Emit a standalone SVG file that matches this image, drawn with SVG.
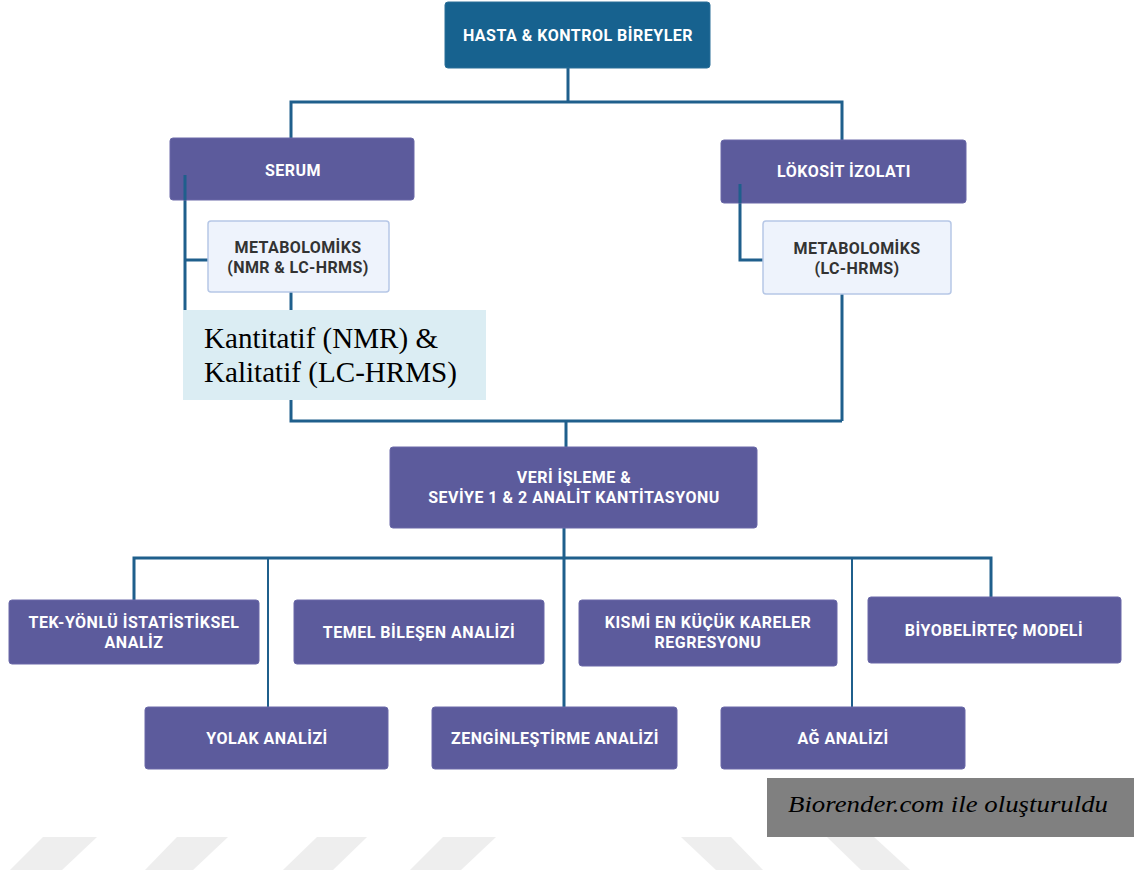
<svg xmlns="http://www.w3.org/2000/svg" width="1134" height="880" viewBox="0 0 1134 880">
<style>
.bg{fill:#ffffff}
.top{fill:#17628f;stroke:#2a6f98;stroke-width:1}
.pur{fill:#5c5b9c;stroke:#6a69a8;stroke-width:1}
.lt{fill:#eef3fc;stroke:#b6c7e6;stroke-width:1.5}
.wt{font-family:Roboto,"Liberation Sans",sans-serif;font-weight:700;font-size:16px;letter-spacing:0.5px;fill:#ffffff;text-anchor:middle}
.dk{font-family:Roboto,"Liberation Sans",sans-serif;font-weight:700;font-size:16px;letter-spacing:0.4px;fill:#333333;text-anchor:middle}
.con{fill:none;stroke:#1f5f8c;stroke-width:3}
.con2{fill:none;stroke:#1f5f8c;stroke-width:2}
.wm{fill:#eeeeee}
.serif{font-family:"Liberation Serif",serif;fill:#000000}
</style>
<rect class="bg" x="0" y="0" width="1134" height="880"/>
<g id="watermark">
<polygon class="wm" points="43,837 97,837 62,870 10,870"/>
<polygon class="wm" points="177,837 228,837 193,870 145,870"/>
<polygon class="wm" points="317,837 367,837 333,870 283,870"/>
<polygon class="wm" points="443,837 496,837 461,870 410,870"/>
<polygon class="wm" points="681,837 731,837 763,870 716,870"/>
<polygon class="wm" points="827,837 874,837 910,870 861,870"/>
</g>
<g id="connectors">
<polyline class="con" points="568,68 568,102"/>
<polyline class="con" points="291,138 291,102 842,102 842,140"/>
<polyline class="con" points="185,175 185,310"/>
<polyline class="con" points="185,260 208,260"/>
<polyline class="con" points="291,292 291,310"/>
<polyline class="con" points="740,184 740,260 763,260"/>
<polyline class="con" points="842,294 842,421"/>
<polyline class="con" points="291,400 291,421 842,421"/>
<polyline class="con" points="566,421 566,447"/>
<polyline class="con" points="564,528 564,558"/>
<polyline class="con" points="134,600 134,558 991,558 991,598"/>
<polyline class="con2" points="268,558 268,707"/>
<polyline class="con" points="564,558 564,707"/>
<polyline class="con2" points="852,558 852,707"/>
</g>
<g id="hasta">
<rect class="top" x="445" y="2" width="265" height="66" rx="3"/>
<text class="wt" x="578" y="41">HASTA &amp; KONTROL BİREYLER</text>
</g>
<g id="serum">
<rect class="pur" x="170" y="138" width="244" height="62" rx="3"/>
<text class="wt" x="293" y="176">SERUM</text>
</g>
<g id="lokosit">
<rect class="pur" x="721" y="140" width="245" height="63" rx="3"/>
<text class="wt" x="844" y="177">LÖKOSİT İZOLATI</text>
</g>
<g id="connector-overlay">
<polyline class="con" points="185,175 185,200"/>
<polyline class="con" points="740,184 740,203"/>
</g>
<g id="metab1">
<rect class="lt" x="208" y="221" width="181" height="71" rx="3"/>
<text class="dk" x="298" y="253">METABOLOMİKS</text>
<text class="dk" x="298" y="273">(NMR &amp; LC-HRMS)</text>
</g>
<g id="metab2">
<rect class="lt" x="763" y="221" width="188" height="73" rx="3"/>
<text class="dk" x="857" y="254">METABOLOMİKS</text>
<text class="dk" x="857" y="274">(LC-HRMS)</text>
</g>
<g id="kantitatif">
<rect x="183" y="310" width="303" height="90" fill="#dbedf3"/>
<text class="serif" x="204" y="348" font-size="29" textLength="234" lengthAdjust="spacingAndGlyphs">Kantitatif (NMR) &amp;</text>
<text class="serif" x="204" y="382" font-size="29" textLength="253" lengthAdjust="spacingAndGlyphs">Kalitatif (LC-HRMS)</text>
</g>
<g id="veri">
<rect class="pur" x="390" y="447" width="367" height="81" rx="3"/>
<text class="wt" x="574" y="483">VERİ İŞLEME &amp;</text>
<text class="wt" x="574" y="503">SEVİYE 1 &amp; 2 ANALİT KANTİTASYONU</text>
</g>
<g id="tek">
<rect class="pur" x="9" y="600" width="250" height="64" rx="3"/>
<text class="wt" x="134" y="628">TEK-YÖNLÜ İSTATİSTİKSEL</text>
<text class="wt" x="134" y="648">ANALİZ</text>
</g>
<g id="temel">
<rect class="pur" x="294" y="600" width="250" height="64" rx="3"/>
<text class="wt" x="419" y="638">TEMEL BİLEŞEN ANALİZİ</text>
</g>
<g id="kismi">
<rect class="pur" x="579" y="600" width="258" height="66" rx="3"/>
<text class="wt" x="708" y="628">KISMİ EN KÜÇÜK KARELER</text>
<text class="wt" x="708" y="648">REGRESYONU</text>
</g>
<g id="biyo">
<rect class="pur" x="868" y="597" width="253" height="66" rx="3"/>
<text class="wt" x="994" y="636">BİYOBELİRTEÇ MODELİ</text>
</g>
<g id="yolak">
<rect class="pur" x="145" y="707" width="243" height="62" rx="3"/>
<text class="wt" x="267" y="744">YOLAK ANALİZİ</text>
</g>
<g id="zengin">
<rect class="pur" x="432" y="707" width="245" height="62" rx="3"/>
<text class="wt" x="555" y="744">ZENGİNLEŞTİRME ANALİZİ</text>
</g>
<g id="ag">
<rect class="pur" x="721" y="707" width="244" height="62" rx="3"/>
<text class="wt" x="843" y="744">AĞ ANALİZİ</text>
</g>
<g id="biorender">
<rect x="767" y="778" width="367" height="59" fill="#808080"/>
<text class="serif" x="788" y="812" font-style="italic" font-size="24" textLength="320" lengthAdjust="spacingAndGlyphs">Biorender.com ile oluşturuldu</text>
</g>
</svg>
